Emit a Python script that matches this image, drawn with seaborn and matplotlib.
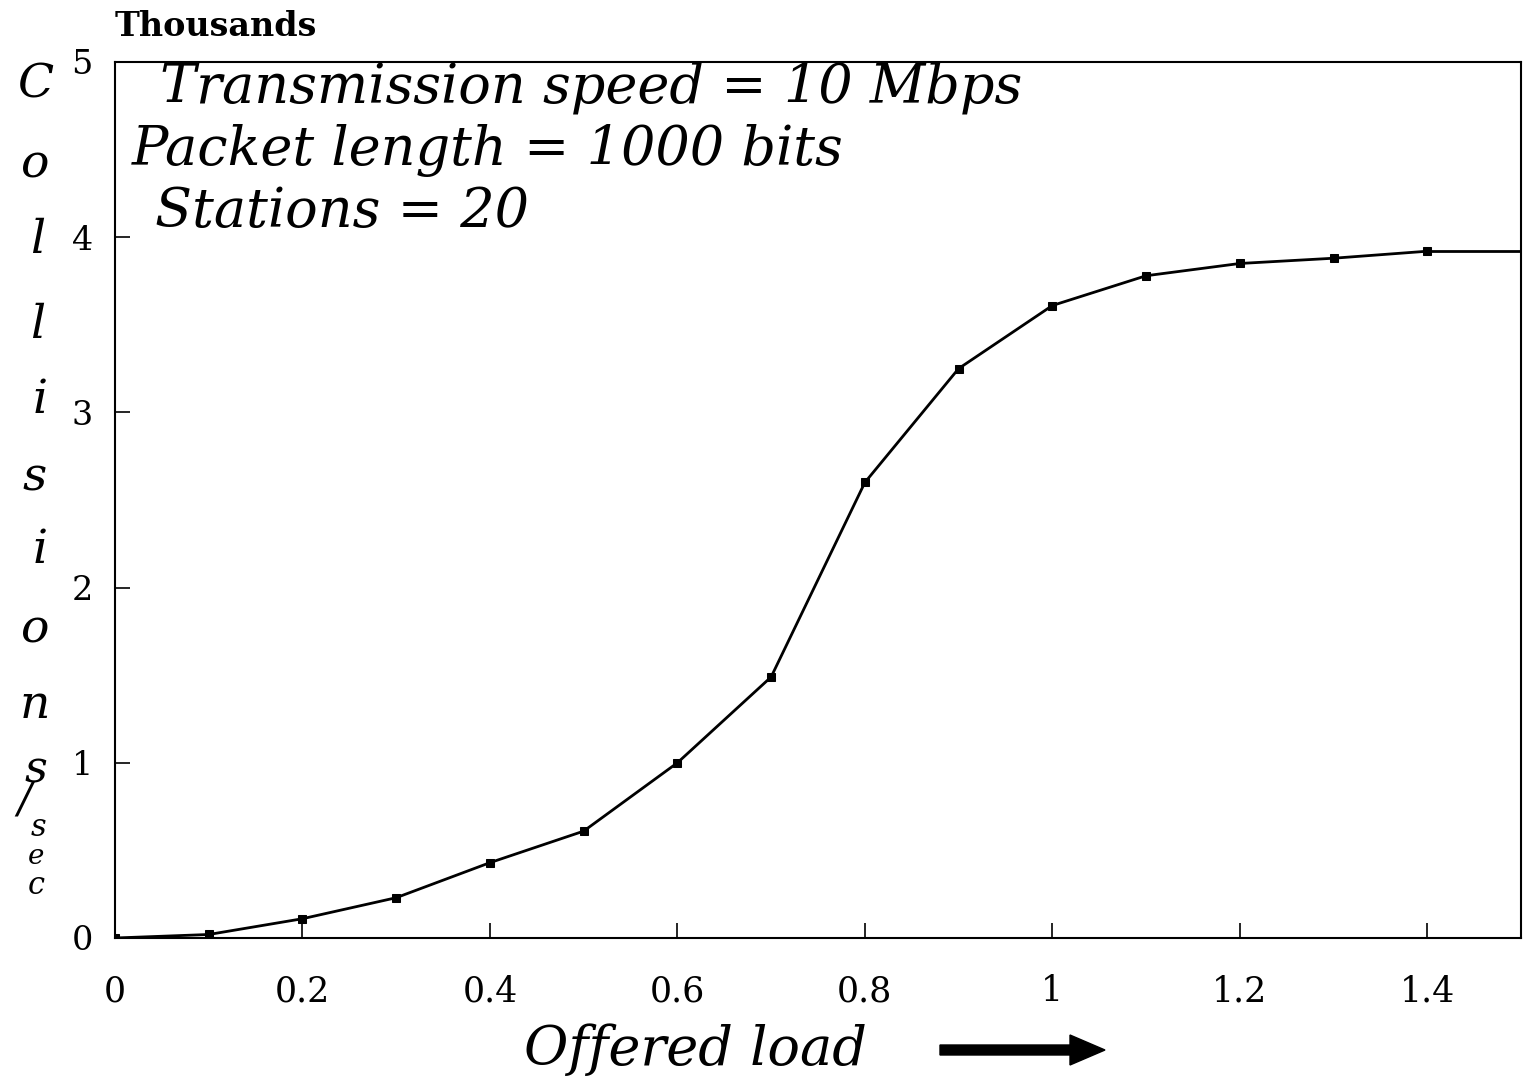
import matplotlib
matplotlib.use("Agg")
import matplotlib.pyplot as plt
import seaborn as sns
import pandas as pd

offered_load = [0.0, 0.1, 0.2, 0.3, 0.4, 0.5, 0.6, 0.7, 0.8, 0.9, 1.0, 1.1, 1.2, 1.3, 1.4]
collisions_k = [0.0, 0.02, 0.11, 0.23, 0.43, 0.61, 1.00, 1.49, 2.60, 3.25, 3.61, 3.78, 3.85, 3.88, 3.92]
tail_x = [1.4, 1.5]
tail_y = [3.92, 3.92]
x_ticks = [0, 0.2, 0.4, 0.6, 0.8, 1.0, 1.2, 1.4]
x_tick_labels = ["0", "0.2", "0.4", "0.6", "0.8", "1", "1.2", "1.4"]
y_ticks = [0, 1, 2, 3, 4, 5]
y_tick_labels = ["0", "1", "2", "3", "4", "5"]
info_lines = ["Transmission speed = 10 Mbps", "Packet length = 1000 bits", "Stations = 20"]

sns.set_style("ticks")
plt.rcParams["font.family"] = ["DejaVu Serif", "DejaVu Sans"]
plt.rcParams["text.color"] = "black"
plt.rcParams["xtick.color"] = "black"
plt.rcParams["ytick.color"] = "black"
plt.rcParams["axes.edgecolor"] = "black"

fig = plt.figure(figsize=(15.23, 10.76), dpi=100)
ax = fig.add_axes([115 / 1523, (1076 - 938) / 1076, (1521 - 115) / 1523, (938 - 62) / 1076])

df = pd.DataFrame({"load": offered_load, "coll": collisions_k})
sns.lineplot(data=df, x="load", y="coll", ax=ax, color="black", linewidth=2.0,
             marker="s", markersize=6, markeredgecolor="black")
sns.lineplot(x=tail_x, y=tail_y, ax=ax, color="black", linewidth=2.0)

ax.set_xlim(0, 1.5)
ax.set_ylim(0, 5)
ax.set_xticks(x_ticks)
ax.set_xticklabels(x_tick_labels, fontfamily="DejaVu Serif", fontsize=25, color="black")
ax.set_yticks(y_ticks)
ax.set_yticklabels(y_tick_labels, fontfamily="DejaVu Serif", fontsize=24, color="black")
ax.tick_params(axis="both", direction="in", length=11, width=1.2, color="black")
ax.tick_params(axis="x", pad=26)
ax.tick_params(axis="y", pad=16)
ax.set_xlabel("")
ax.set_ylabel("")
for s in ax.spines.values():
    s.set_linewidth(1.5)
    s.set_color("black")

# Info text block
info_pos = [(160, 88), (132, 150), (155, 212)]
for txt, (px, py) in zip(info_lines, info_pos):
    fig.text(px / 1523, 1 - py / 1076, txt, fontsize=39, style="italic",
             fontfamily="DejaVu Serif", va="center", ha="left", color="black")

# "Thousands"
fig.text(115 / 1523, 1 - 26 / 1076, "Thousands", fontsize=24, fontweight="bold",
         fontfamily="DejaVu Serif", va="center", ha="left", color="black")

# Vertical y label letters
letters = ["C", "o", "l", "l", "i", "s", "i", "o", "n", "s", "/", "s", "e", "c"]
ypos = [85, 165, 240, 325, 400, 478, 550, 630, 705, 770, 800, 828, 856, 885]
xpos = [35, 35, 38, 38, 40, 35, 40, 35, 35, 36, 24, 38, 36, 36]
sizes = [34, 34, 34, 34, 34, 34, 34, 34, 34, 32, 30, 22, 20, 22]
for ch, px, py, fs in zip(letters, xpos, ypos, sizes):
    fig.text(px / 1523, 1 - py / 1076, ch, fontsize=fs, style="italic",
             fontfamily="DejaVu Serif", va="center", ha="center", color="black")

# x label + arrow
fig.text(695 / 1523, 1 - 1050 / 1076, "Offered load", fontsize=39, style="italic",
         fontfamily="DejaVu Serif", va="center", ha="center", color="black")
fig.patches.append(matplotlib.patches.FancyArrow(
    940 / 1523, 1 - 1050 / 1076, 130 / 1523, 0, width=10 / 1076,
    head_width=30 / 1076, head_length=35 / 1523, color="black",
    transform=fig.transFigure, length_includes_head=False))

fig.savefig("out.png", dpi=100)
